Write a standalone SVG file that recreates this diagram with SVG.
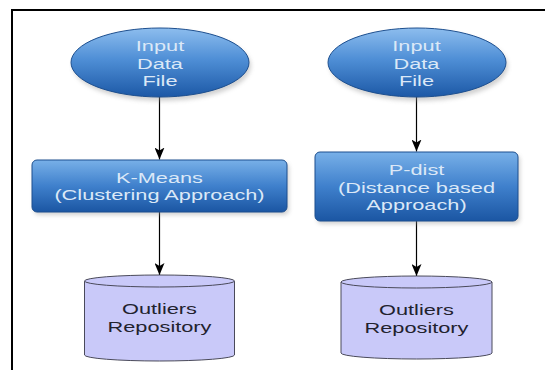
<svg xmlns="http://www.w3.org/2000/svg" width="545" height="370" viewBox="0 0 545 370">
<defs>
<linearGradient id="gBlue" x1="0" y1="0" x2="0" y2="1">
<stop offset="0" stop-color="#8dbdee"/>
<stop offset="0.45" stop-color="#4f8fd6"/>
<stop offset="1" stop-color="#1c58a6"/>
</linearGradient>
<linearGradient id="gBox" x1="0" y1="0" x2="0" y2="1">
<stop offset="0" stop-color="#78b0e8"/>
<stop offset="0.5" stop-color="#3f80cc"/>
<stop offset="1" stop-color="#1b56a3"/>
</linearGradient>
<marker id="arr" viewBox="0 0 12 10" refX="12" refY="5" markerWidth="12" markerHeight="10" markerUnits="userSpaceOnUse" orient="auto">
<path d="M0,0 L12,5 L0,10 L3,5 Z" fill="#000"/>
</marker>
<filter id="sh" x="-10%" y="-10%" width="130%" height="140%">
<feGaussianBlur stdDeviation="2"/>
</filter>
</defs>
<style>
.blue{fill:url(#gBlue);stroke:#1d4f8f;stroke-width:1}
.box{fill:url(#gBox);stroke:#1d4f8f;stroke-width:1}
.shadow{fill:#9a9a9a;opacity:0.45;filter:url(#sh)}
.cyl{fill:#c9c9f9;stroke:#4a4a5a;stroke-width:1}
.lt{font-family:"Liberation Sans",Arial,sans-serif;font-size:15px;fill:#dbe8f7;text-anchor:middle}
.dk{font-family:"Liberation Sans",Arial,sans-serif;font-size:15px;fill:#22222e;text-anchor:middle}
.edge{stroke:#000;stroke-width:1.2;fill:none;marker-end:url(#arr)}
</style>
<rect width="545" height="370" fill="#fff"/>
<path d="M12,371 L12,10 L546,10" fill="none" stroke="#000" stroke-width="2"/>

<g id="connectors">
<line class="edge" x1="159.5" y1="97" x2="159.5" y2="159.5"/>
<line class="edge" x1="416.5" y1="97" x2="416.5" y2="151.5"/>
<line class="edge" x1="159.5" y1="212" x2="159.5" y2="275"/>
<line class="edge" x1="416.5" y1="221" x2="416.5" y2="276"/>
</g>

<g id="input1">
<ellipse class="shadow" cx="162" cy="66" rx="89" ry="35"/>
<ellipse class="blue" cx="160" cy="62.5" rx="89" ry="34.5"/>
<g transform="translate(160 0) scale(1.45 1)">
<text class="lt" x="0" y="51">Input</text>
<text class="lt" x="0" y="69">Data</text>
<text class="lt" x="0" y="86.5">File</text>
</g>
</g>

<g id="input2">
<ellipse class="shadow" cx="419" cy="66" rx="89" ry="35"/>
<ellipse class="blue" cx="417" cy="62.5" rx="89" ry="34.5"/>
<g transform="translate(416.5 0) scale(1.45 1)">
<text class="lt" x="0" y="51">Input</text>
<text class="lt" x="0" y="69">Data</text>
<text class="lt" x="0" y="86.5">File</text>
</g>
</g>

<g id="kmeans">
<rect class="shadow" x="34" y="163" width="255" height="52" rx="5"/>
<rect class="box" x="32" y="160" width="255" height="52" rx="5"/>
<g transform="translate(159.5 0) scale(1.45 1)">
<text class="lt" x="0" y="183">K-Means</text>
<text class="lt" x="0" y="200.5">(Clustering Approach)</text>
</g>
</g>

<g id="pdist">
<rect class="shadow" x="317" y="155" width="203" height="69" rx="5"/>
<rect class="box" x="315" y="152" width="203" height="69" rx="5"/>
<g transform="translate(416.5 0) scale(1.45 1)">
<text class="lt" x="0" y="175.5">P-dist</text>
<text class="lt" x="0" y="193">(Distance based</text>
<text class="lt" x="0" y="210.5">Approach)</text>
</g>
</g>

<g id="repo1">
<path class="cyl" d="M84.5,281 A75,6 0 0 1 234.5,281 L234.5,355 A75,6 0 0 1 84.5,355 Z"/>
<path class="cyl" d="M84.5,281 A75,6 0 0 0 234.5,281" fill="none"/>
<g transform="translate(159.5 0) scale(1.45 1)">
<text class="dk" x="0" y="314.5">Outliers</text>
<text class="dk" x="0" y="332">Repository</text>
</g>
</g>

<g id="repo2">
<path class="cyl" d="M341,282 A75.5,6 0 0 1 492,282 L492,353 A75.5,6 0 0 1 341,353 Z"/>
<path class="cyl" d="M341,282 A75.5,6 0 0 0 492,282" fill="none"/>
<g transform="translate(416.5 0) scale(1.45 1)">
<text class="dk" x="0" y="315.5">Outliers</text>
<text class="dk" x="0" y="333">Repository</text>
</g>
</g>
</svg>
